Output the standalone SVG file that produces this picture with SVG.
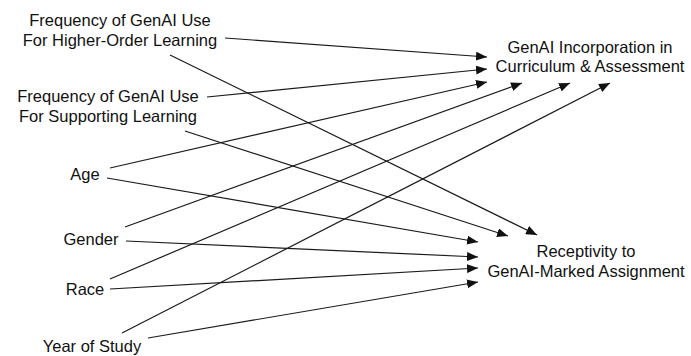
<svg xmlns="http://www.w3.org/2000/svg" width="691" height="356" viewBox="0 0 691 356">
<style>
text{font-family:"Liberation Sans",Arial,Helvetica,sans-serif;font-size:16.5px;fill:#111;text-anchor:middle}
.c line{stroke:#1a1a1a;stroke-width:1.2;fill:none;marker-end:url(#ah)}
</style>
<defs>
<marker id="ah" markerUnits="userSpaceOnUse" markerWidth="11" markerHeight="9" refX="11" refY="4.5" orient="auto">
<path d="M0,0 L11,4.5 L0,9 z" fill="#111"/>
</marker>
</defs>
<rect width="691" height="356" fill="#fff"/>
<g id="ho"><text x="120" y="26">Frequency of GenAI Use</text><text x="120" y="46">For Higher-Order Learning</text></g>
<g id="sl"><text x="108" y="102">Frequency of GenAI Use</text><text x="108" y="122">For Supporting Learning</text></g>
<g id="age"><text x="85" y="180">Age</text></g>
<g id="gender"><text x="91" y="245">Gender</text></g>
<g id="race"><text x="85" y="295">Race</text></g>
<g id="year"><text x="92" y="352">Year of Study</text></g>
<g id="cia"><text x="590" y="53">GenAI Incorporation in</text><text x="590" y="72">Curriculum &amp; Assessment</text></g>
<g id="rec"><text x="586" y="257">Receptivity to</text><text x="586" y="277">GenAI-Marked Assignment</text></g>
<g class="c" id="connectors">
<line x1="225" y1="38" x2="487" y2="57"/>
<line x1="170" y1="55" x2="537" y2="235"/>
<line x1="207" y1="97" x2="487" y2="69"/>
<line x1="185" y1="131" x2="508" y2="236"/>
<line x1="110" y1="168" x2="487" y2="82"/>
<line x1="107" y1="178" x2="478" y2="242"/>
<line x1="125" y1="227" x2="522" y2="83"/>
<line x1="126" y1="241" x2="478" y2="257"/>
<line x1="110" y1="279" x2="570" y2="83"/>
<line x1="110" y1="289" x2="478" y2="268"/>
<line x1="122" y1="333" x2="610" y2="83"/>
<line x1="148" y1="338" x2="478" y2="282"/>
</g>
</svg>
